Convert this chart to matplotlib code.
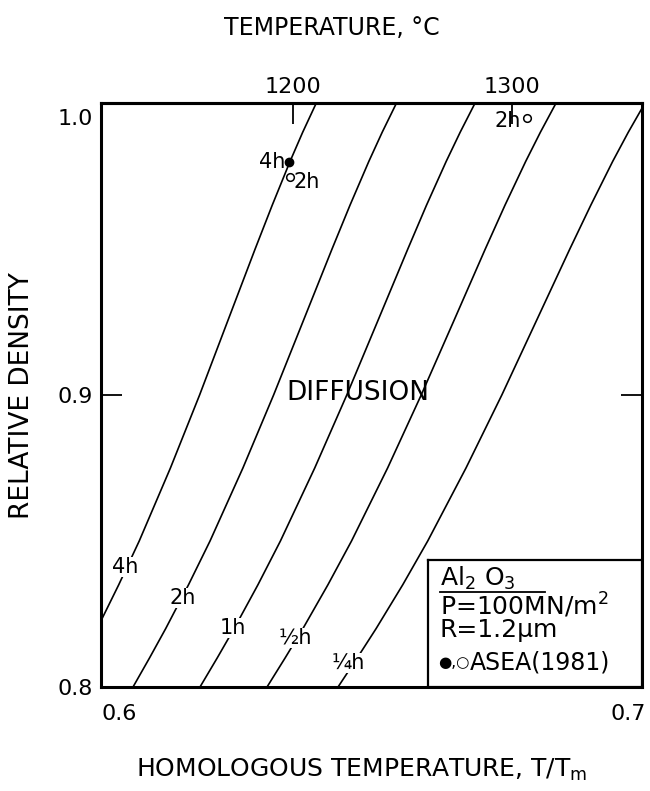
import numpy as np
import matplotlib
matplotlib.use("Agg")
import matplotlib.pyplot as plt

# relative density levels at which each curve was read
density = [0.80, 0.81, 0.82, 0.835, 0.85, 0.875, 0.90,
           0.925, 0.95, 0.965, 0.98, 0.99, 1.00]

# homologous temperature T/Tm of each iso-time curve at those densities
curve_4h = [0.58959, 0.59269, 0.59570, 0.59994, 0.60397, 0.61010, 0.61583,
            0.62128, 0.62674, 0.63010, 0.63360, 0.63609, 0.63876]
curve_2h = [0.60275, 0.60601, 0.60917, 0.61365, 0.61788, 0.62434, 0.63037,
            0.63611, 0.64185, 0.64538, 0.64908, 0.65171, 0.65452]
curve_1h = [0.61591, 0.61931, 0.62261, 0.62729, 0.63171, 0.63845, 0.64475,
            0.65075, 0.65674, 0.66041, 0.66428, 0.66703, 0.66996]
curve_half = [0.62908, 0.63265, 0.63613, 0.64104, 0.64568, 0.65277, 0.65937,
              0.66568, 0.67196, 0.67583, 0.67990, 0.68279, 0.68587]
curve_quarter = [0.64303, 0.64682, 0.65051, 0.65574, 0.66065, 0.66817, 0.67521,
                 0.68189, 0.68857, 0.69269, 0.69699, 0.70006, 0.70334]

curves = [curve_4h, curve_2h, curve_1h, curve_half, curve_quarter]
curve_labels = ["4h", "2h", "1h", "\u00bdh", "\u00bch"]
label_x = [0.6012, 0.6126, 0.6224, 0.6346, 0.6450]
label_y = [0.8411, 0.8305, 0.8202, 0.8168, 0.8082]

# ASEA (1981) experimental points
asea_filled_x = [0.6334]
asea_filled_y = [0.9798]
asea_open_x = [0.6336, 0.6802]
asea_open_y = [0.9747, 0.9949]

T_MELT = 2323.0  # K, Al2O3

fig = plt.figure(figsize=(6.5, 7.91), dpi=100)
ax = fig.add_axes([0.1554, 0.1315, 0.8323, 0.7383])

for xs in curves:
    ax.plot(xs, density, color="black", linewidth=1.2, solid_capstyle="butt")

for lx, ly, lab in zip(label_x, label_y, curve_labels):
    ax.text(lx, ly, lab, fontsize=15, ha="center", va="center",
            bbox=dict(facecolor="white", edgecolor="none", pad=0.3), zorder=4)

ax.plot(asea_filled_x, asea_filled_y, "o", color="black", markersize=6, zorder=5)
ax.plot(asea_open_x, asea_open_y, "o", markerfacecolor="white",
        markeredgecolor="black", markersize=5.5, markeredgewidth=1.1, zorder=5)
ax.text(asea_filled_x[0] - 0.0008, asea_filled_y[0], "4h", fontsize=15,
        ha="right", va="center")
ax.text(asea_open_x[0] + 0.0007, asea_open_y[0] - 0.0018, "2h", fontsize=15,
        ha="left", va="center")
ax.text(asea_open_x[1] - 0.0013, asea_open_y[1] - 0.0012, "2h", fontsize=15,
        ha="right", va="center")

ax.text(0.6470, 0.9007, "DIFFUSION", fontsize=19, ha="center", va="center")

ax.set_xlim(0.59646, 0.70275)
ax.set_ylim(0.8, 1.0)

# axis styling
for side in ["left", "bottom", "right", "top"]:
    ax.spines[side].set_linewidth(2.2)

ax.set_xticks([0.6, 0.7])
ax.set_xticklabels(["0.6", "0.7"], fontsize=16)
ax.tick_params(axis="x", length=0, pad=12)
ax.set_yticks([0.8, 0.9, 1.0])
ax.set_yticklabels(["0.8", "0.9", ""], fontsize=16)
ax.tick_params(axis="y", direction="in", length=15, width=1.3, right=True, pad=6)
ax.text(-0.015, 0.972, "1.0", transform=ax.transAxes, fontsize=16,
        ha="right", va="center")

fig.text(362 / 650, 1 - 770 / 791, r"HOMOLOGOUS TEMPERATURE, T/T$_\mathregular{m}$",
         fontsize=18, ha="center", va="center")
fig.text(22 / 650, 0.5, "RELATIVE DENSITY", fontsize=19,
         ha="center", va="center", rotation=90)
fig.text(332 / 650, 1 - 28 / 791, "TEMPERATURE, °C", fontsize=17,
         ha="center", va="center")

# top temperature axis in degrees C
top = ax.secondary_xaxis("top", functions=(lambda h: h * T_MELT - 273.0,
                                           lambda c: (c + 273.0) / T_MELT))
top.set_xticks([1200, 1300])
top.set_xticklabels(["1200", "1300"], fontsize=16)
top.tick_params(direction="in", length=15, width=1.3, pad=4)
top.spines["top"].set_linewidth(2.2)

# material / conditions box
box = ax.inset_axes([0.604, 0.0, 0.396, 0.217])
box.set_xticks([])
box.set_yticks([])
for s in box.spines.values():
    s.set_linewidth(1.6)
box.set_xlim(0, 1)
box.set_ylim(0, 1)
box.text(0.056, 0.86, r"Al$_2$ O$_3$", fontsize=18, ha="left", va="center")
box.plot([0.056, 0.547], [0.748, 0.748], color="black", linewidth=1.3)
box.text(0.056, 0.646, r"P=100MN/m$^2$", fontsize=18, ha="left", va="center")
box.text(0.056, 0.45, "R=1.2\u00b5m", fontsize=18, ha="left", va="center")
box.text(0.05, 0.197, "\u25cf,\u25cb", fontsize=11, ha="left", va="center")
box.text(0.195, 0.197, "ASEA(1981)", fontsize=17, ha="left", va="center")

fig.savefig("out.png", dpi=100)
